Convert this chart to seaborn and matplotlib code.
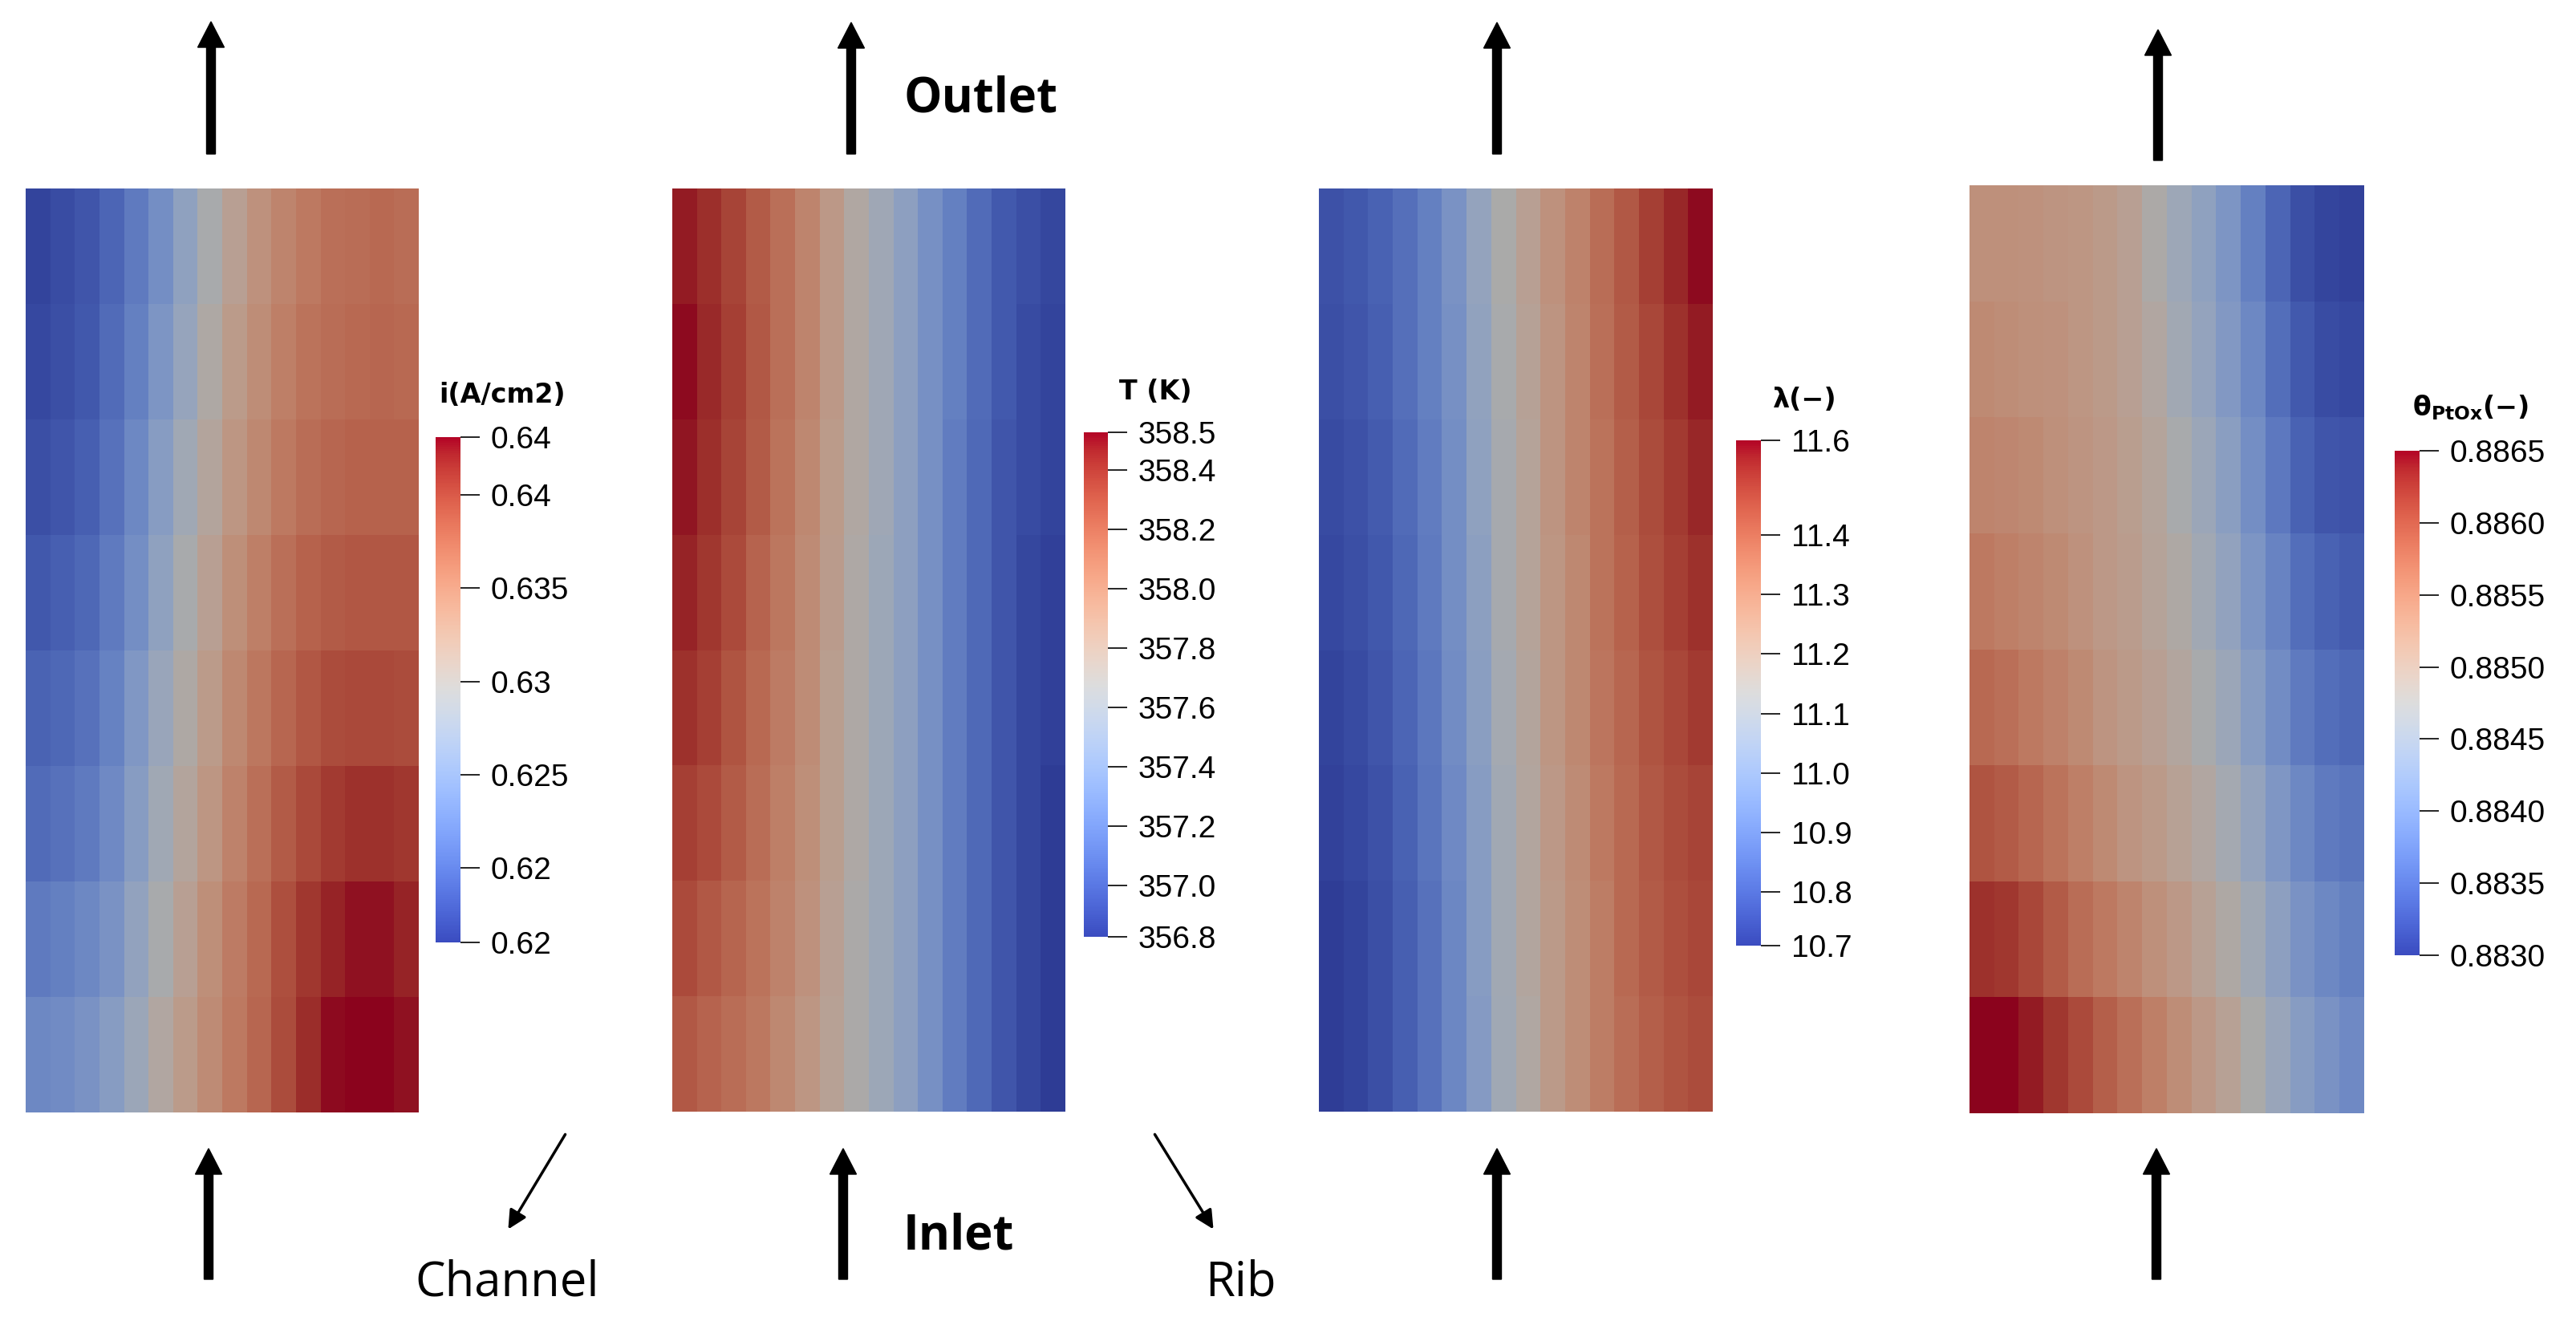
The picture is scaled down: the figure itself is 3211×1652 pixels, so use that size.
import numpy as np
import matplotlib
matplotlib.use('Agg')
import matplotlib.pyplot as plt
from matplotlib.colors import ListedColormap, Normalize
from matplotlib.cm import ScalarMappable
import seaborn as sns

# field values (8 rows top->bottom, 16 columns left->right)
current_density = [
    [0.6168, 0.6174, 0.6182, 0.6195, 0.6214, 0.6236, 0.6263, 0.6293, 0.6317, 0.6336, 0.6350, 0.6361, 0.6369, 0.6371, 0.6374, 0.6371],
    [0.6171, 0.6176, 0.6184, 0.6201, 0.6220, 0.6244, 0.6271, 0.6301, 0.6325, 0.6342, 0.6355, 0.6366, 0.6371, 0.6374, 0.6377, 0.6374],
    [0.6176, 0.6182, 0.6190, 0.6206, 0.6228, 0.6255, 0.6282, 0.6309, 0.6331, 0.6347, 0.6361, 0.6371, 0.6377, 0.6380, 0.6380, 0.6380],
    [0.6184, 0.6190, 0.6198, 0.6214, 0.6236, 0.6263, 0.6293, 0.6317, 0.6339, 0.6355, 0.6369, 0.6380, 0.6385, 0.6388, 0.6388, 0.6388],
    [0.6193, 0.6198, 0.6206, 0.6222, 0.6247, 0.6274, 0.6301, 0.6325, 0.6347, 0.6363, 0.6377, 0.6388, 0.6396, 0.6398, 0.6398, 0.6396],
    [0.6201, 0.6206, 0.6214, 0.6230, 0.6255, 0.6282, 0.6309, 0.6331, 0.6352, 0.6369, 0.6385, 0.6398, 0.6407, 0.6412, 0.6412, 0.6409],
    [0.6214, 0.6220, 0.6228, 0.6241, 0.6266, 0.6293, 0.6317, 0.6339, 0.6358, 0.6374, 0.6393, 0.6409, 0.6420, 0.6426, 0.6426, 0.6420],
    [0.6228, 0.6233, 0.6241, 0.6255, 0.6277, 0.6304, 0.6325, 0.6344, 0.6361, 0.6377, 0.6396, 0.6415, 0.6428, 0.6431, 0.6431, 0.6426],
]

temperature = [
    [358.48, 358.42, 358.34, 358.24, 358.14, 358.02, 357.88, 357.73, 357.59, 357.46, 357.32, 357.20, 357.08, 356.98, 356.93, 356.89],
    [358.51, 358.44, 358.36, 358.25, 358.14, 358.02, 357.88, 357.73, 357.59, 357.46, 357.32, 357.20, 357.08, 356.98, 356.91, 356.88],
    [358.49, 358.42, 358.34, 358.24, 358.12, 358.00, 357.86, 357.73, 357.59, 357.46, 357.32, 357.18, 357.07, 356.96, 356.91, 356.88],
    [358.46, 358.39, 358.31, 358.20, 358.10, 357.98, 357.85, 357.71, 357.57, 357.46, 357.32, 357.18, 357.07, 356.96, 356.89, 356.86],
    [358.41, 358.36, 358.27, 358.17, 358.07, 357.97, 357.83, 357.71, 357.57, 357.46, 357.32, 357.18, 357.07, 356.96, 356.89, 356.86],
    [358.36, 358.31, 358.24, 358.15, 358.05, 357.95, 357.83, 357.71, 357.57, 357.46, 357.32, 357.18, 357.07, 356.96, 356.89, 356.84],
    [358.31, 358.25, 358.19, 358.12, 358.03, 357.93, 357.81, 357.69, 357.57, 357.46, 357.32, 357.18, 357.07, 356.96, 356.89, 356.84],
    [358.25, 358.20, 358.15, 358.09, 358.00, 357.90, 357.80, 357.69, 357.57, 357.46, 357.32, 357.18, 357.07, 356.96, 356.89, 356.84],
]

water_content = [
    [10.769, 10.786, 10.812, 10.846, 10.897, 10.965, 11.050, 11.135, 11.202, 11.262, 11.313, 11.372, 11.423, 11.474, 11.517, 11.551],
    [10.761, 10.778, 10.803, 10.846, 10.897, 10.956, 11.041, 11.126, 11.194, 11.253, 11.304, 11.364, 11.415, 11.457, 11.500, 11.534],
    [10.752, 10.769, 10.795, 10.837, 10.888, 10.948, 11.033, 11.118, 11.185, 11.253, 11.304, 11.355, 11.406, 11.449, 11.483, 11.517],
    [10.744, 10.761, 10.786, 10.829, 10.880, 10.948, 11.024, 11.118, 11.185, 11.245, 11.296, 11.355, 11.398, 11.440, 11.474, 11.500],
    [10.735, 10.752, 10.778, 10.820, 10.871, 10.939, 11.016, 11.109, 11.177, 11.245, 11.296, 11.347, 11.389, 11.432, 11.457, 11.483],
    [10.727, 10.744, 10.769, 10.812, 10.863, 10.931, 11.007, 11.101, 11.168, 11.236, 11.287, 11.338, 11.381, 11.423, 11.449, 11.466],
    [10.718, 10.735, 10.761, 10.803, 10.854, 10.922, 11.007, 11.101, 11.168, 11.228, 11.279, 11.330, 11.381, 11.415, 11.440, 11.457],
    [10.718, 10.735, 10.761, 10.803, 10.854, 10.922, 10.999, 11.092, 11.160, 11.228, 11.279, 11.330, 11.372, 11.406, 11.432, 11.449],
]

ptox_coverage = [
    [0.88531, 0.88531, 0.88528, 0.88524, 0.88521, 0.88514, 0.88503, 0.88479, 0.88454, 0.88433, 0.88409, 0.88377, 0.88346, 0.88321, 0.88311, 0.88307],
    [0.88538, 0.88535, 0.88531, 0.88528, 0.88521, 0.88514, 0.88503, 0.88486, 0.88461, 0.88440, 0.88416, 0.88388, 0.88356, 0.88332, 0.88318, 0.88314],
    [0.88545, 0.88542, 0.88538, 0.88531, 0.88524, 0.88517, 0.88507, 0.88493, 0.88472, 0.88451, 0.88426, 0.88398, 0.88367, 0.88342, 0.88328, 0.88325],
    [0.88559, 0.88552, 0.88545, 0.88538, 0.88528, 0.88517, 0.88510, 0.88496, 0.88482, 0.88461, 0.88437, 0.88409, 0.88381, 0.88356, 0.88342, 0.88335],
    [0.88577, 0.88570, 0.88559, 0.88549, 0.88538, 0.88524, 0.88514, 0.88503, 0.88489, 0.88472, 0.88451, 0.88423, 0.88395, 0.88370, 0.88356, 0.88349],
    [0.88598, 0.88591, 0.88580, 0.88566, 0.88552, 0.88538, 0.88524, 0.88514, 0.88500, 0.88486, 0.88465, 0.88440, 0.88412, 0.88388, 0.88370, 0.88363],
    [0.88626, 0.88622, 0.88608, 0.88591, 0.88573, 0.88559, 0.88545, 0.88531, 0.88517, 0.88500, 0.88482, 0.88458, 0.88430, 0.88405, 0.88388, 0.88377],
    [0.88650, 0.88650, 0.88640, 0.88622, 0.88605, 0.88587, 0.88570, 0.88552, 0.88535, 0.88517, 0.88500, 0.88475, 0.88447, 0.88423, 0.88405, 0.88391],
]

# colour bar ranges, ticks and labels
cbar_titles = ['i(A/cm2)', 'T (K)', 'λ(−)', 'θ$_{\\mathbf{PtOx}}$(−)']
cbar_min = [0.616, 356.827, 10.71, 0.8830]
cbar_max = [0.6431, 358.527, 11.559, 0.8865]
cbar_ticks = [
    [0.616, 0.62, 0.625, 0.63, 0.635, 0.64, 0.6431],
    [356.827, 357.0, 357.2, 357.4, 357.6, 357.8, 358.0, 358.2, 358.4, 358.527],
    [10.71, 10.8, 10.9, 11.0, 11.1, 11.2, 11.3, 11.4, 11.559],
    [0.8830, 0.8835, 0.8840, 0.8845, 0.8850, 0.8855, 0.8860, 0.8865],
]
cbar_labels = [
    ['0.62', '0.62', '0.625', '0.63', '0.635', '0.64', '0.64'],
    ['356.8', '357.0', '357.2', '357.4', '357.6', '357.8', '358.0', '358.2', '358.4', '358.5'],
    ['10.7', '10.8', '10.9', '11.0', '11.1', '11.2', '11.3', '11.4', '11.6'],
    ['0.8830', '0.8835', '0.8840', '0.8845', '0.8850', '0.8855', '0.8860', '0.8865'],
]

fields = [current_density, temperature, water_content, ptox_coverage]

sns.set_theme(style='white')
plt.rcParams['font.family'] = ['DejaVu Sans']
plt.rcParams['text.color'] = 'black'
plt.rcParams['ytick.color'] = 'black'
plt.rcParams['ytick.labelcolor'] = 'black'

W, H = 3212, 1652
fig = plt.figure(figsize=(W / 100, H / 100), dpi=100)


def px_box(x0, y0, x1, y1):
    return [x0 / W, 1 - y1 / H, (x1 - x0) / W, (y1 - y0) / H]


# the rendered fields look like coolwarm with some shading on top
base_cmap = sns.color_palette('coolwarm', as_cmap=True)
shaded = base_cmap(np.linspace(0, 1, 256))
shaded[:, :3] *= 0.77
field_cmap = ListedColormap(shaded)

panel_boxes = [(32, 235, 522, 1387), (838, 235, 1328, 1386),
               (1644, 235, 2135, 1386), (2455, 231, 2947, 1388)]
cbar_boxes = [(543, 545, 574, 1175), (1351, 539, 1381, 1168),
              (2164, 549, 2195, 1179), (2985, 562, 3016, 1191)]
title_pos = [(626, 493), (1440, 488), (2249, 498), (3080, 508)]

for k in range(4):
    ax = fig.add_axes(px_box(*panel_boxes[k]))
    sns.heatmap(np.array(fields[k]), ax=ax, cmap=field_cmap,
                vmin=cbar_min[k], vmax=cbar_max[k], cbar=False,
                xticklabels=False, yticklabels=False)

    cax = fig.add_axes(px_box(*cbar_boxes[k]))
    sm = ScalarMappable(norm=Normalize(cbar_min[k], cbar_max[k]), cmap=base_cmap)
    cb = fig.colorbar(sm, cax=cax)
    cb.outline.set_visible(False)
    cb.set_ticks(cbar_ticks[k])
    cb.set_ticklabels(cbar_labels[k])
    cax.tick_params(axis='y', right=True, direction='out', length=17,
                    width=1.2, color='black', labelcolor='black', pad=10, labelsize=28)
    for t in cax.get_yticklabels():
        t.set_fontfamily('Liberation Sans')

# overlay in pixel units for arrows and labels
ov = fig.add_axes([0, 0, 1, 1])
ov.set_xlim(0, W)
ov.set_ylim(H, 0)
ov.axis('off')
ov.patch.set_alpha(0)

for k in range(4):
    ov.text(title_pos[k][0], title_pos[k][1], cbar_titles[k], fontsize=24,
            fontweight='bold', ha='center', va='center', color='black')

top_x = [263, 1061, 1866, 2690]
top_y = [(192, 27), (192, 28), (192, 28), (200, 37)]
bot_x = [260, 1051, 1866, 2688]
for x, (y0, y1) in zip(top_x, top_y):
    ov.arrow(x, y0, 0, y1 - y0, width=11, head_width=33, head_length=32,
             length_includes_head=True, color='black')
for x in bot_x:
    ov.arrow(x, 1595, 0, 1432 - 1595, width=11, head_width=33, head_length=32,
             length_includes_head=True, color='black')

ov.annotate('', xy=(632, 1535), xytext=(706, 1412),
            arrowprops=dict(arrowstyle='-|>', lw=2.5, color='black', mutation_scale=35))
ov.annotate('', xy=(1514, 1535), xytext=(1438, 1412),
            arrowprops=dict(arrowstyle='-|>', lw=2.5, color='black', mutation_scale=35))

ov.text(1127, 139, 'Outlet', fontsize=43, fontweight='bold', family='Open Sans',
        va='baseline', color='black')
ov.text(1126, 1557, 'Inlet', fontsize=43, fontweight='bold', family='Open Sans',
        va='baseline', color='black')
ov.text(517, 1615, 'Channel', fontsize=43, family='Open Sans', va='baseline', color='black')
ov.text(1502, 1615, 'Rib', fontsize=43, family='Open Sans', va='baseline', color='black')

fig.savefig('out.png', dpi=100, facecolor='white')
